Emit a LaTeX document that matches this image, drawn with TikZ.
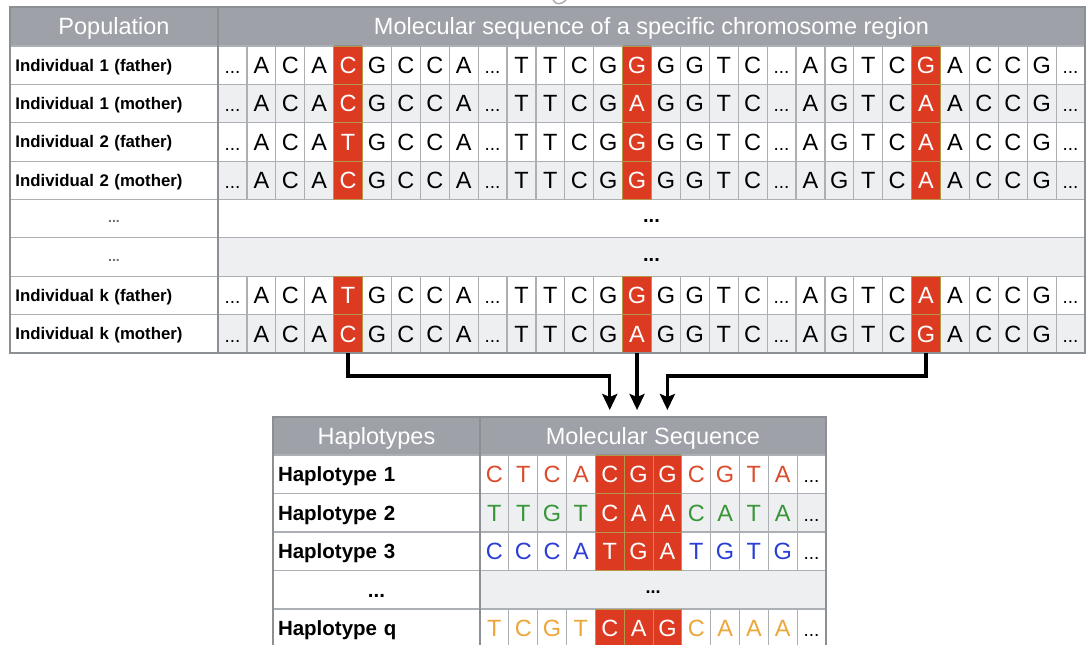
\documentclass[tikz,border=0pt]{standalone}
\usepackage{fontspec}
\setmainfont{Liberation Sans}
\usetikzlibrary{arrows.meta,calc}

\definecolor{hdrgray}{RGB}{158,161,167}
\definecolor{gridgray}{RGB}{172,175,180}
\definecolor{edgegray}{RGB}{140,143,148}
\definecolor{rowgray}{RGB}{237,239,241}
\definecolor{hlred}{RGB}{221,58,34}
\definecolor{hledge}{RGB}{182,150,72}
\definecolor{hapred}{RGB}{218,76,44}
\definecolor{hapgreen}{RGB}{56,150,56}
\definecolor{hapblue}{RGB}{42,62,214}
\definecolor{haporange}{RGB}{236,166,58}
\definecolor{dotgray}{RGB}{110,110,110}

% ellipsis used inside sequence cells
\newcommand\sqdots{{\fontsize{19}{19}\selectfont...}}

% one haplotype row: id, y centre, fill, letter colour, label, letters 1..11
\newcommand\haprow[6]{%
  \node[hlab] (hl#1) at (376.5,#2) {#5};
  \foreach \ltr [count=\i] in {#6}{%
    \pgfmathsetmacro\cx{480+(\i-0.5)*28.833}%
    \ifnum\i<5 \node[bcell,fill=#3,text=#4] (b#1-\i) at (\cx,#2) {\ltr};\fi
    \ifnum\i>7 \node[bcell,fill=#3,text=#4] (b#1-\i) at (\cx,#2) {\ltr};\fi
  }%
  \node[bcell,fill=#3] (b#1-12) at ({480+11.5*28.833},#2) {\sqdots};
}

\begin{document}
\begin{tikzpicture}[x=1pt,y=-1pt,
  every node/.style={inner sep=0pt,outer sep=0pt},
  cell/.style={draw=gridgray,line width=1.2pt,minimum width=28.9pt,
    minimum height=38.375pt,font=\fontsize{23.5}{24}\selectfont,
    text height=16.8pt,text depth=0pt},
  bcell/.style={cell,minimum width=28.833pt,minimum height=38.5pt},
  hl/.style={fill=hlred,draw=hledge,line width=0.9pt,text=white},
  hdr/.style={fill=hdrgray,draw=edgegray,line width=1.2pt,text=white,
    font=\fontsize{23.5}{24}\selectfont,text height=16.8pt,text depth=0pt},
  labcell/.style={draw=gridgray,line width=1.2pt,fill=white,
    minimum height=38.375pt,text width=197pt,inner xsep=5.5pt,align=left,
    font=\bfseries\fontsize{16.8}{18}\selectfont,text height=12pt,text depth=0pt},
  hlab/.style={draw=gridgray,line width=1.2pt,fill=white,
    minimum height=38.5pt,text width=197pt,inner xsep=5pt,align=left,
    font=\bfseries\fontsize{20.5}{22}\selectfont,text height=14.7pt,text depth=0pt},
  dotlab/.style={align=center,font=\bfseries\fontsize{14}{14}\selectfont,
    text=dotgray,text height=8pt},
  span/.style={draw=gridgray,line width=1.2pt,minimum height=38.375pt,
    font=\bfseries\fontsize{20}{20}\selectfont,text height=8pt,text depth=0pt},
  edge/.style={draw=edgegray,line width=1.8pt},
  arr/.style={line width=3.2pt,line join=miter,
    -{Stealth[length=16pt,width=15pt,inset=3pt]}}
]
\useasboundingbox (0,0) rectangle (1087,645);
\fill[white] (0,0) rectangle (1087,645);

% small mark cut by the top edge
\draw[gray!70,line width=1.3pt] (553,0) .. controls (556,5) and (561,5) .. (566,0);

% ---------------- population table ----------------
\node[hdr,minimum width=208pt,minimum height=39pt] (hpop) at (114,26.5) {Population};
\node[hdr,minimum width=867pt,minimum height=39pt] (hseq) at (651.5,26.5)
  {Molecular sequence of a specific chromosome region};

\foreach \r/\fc/\lab in {
  1/white/Individual 1 (father),
  2/rowgray/Individual 1 (mother),
  3/white/Individual 2 (father),
  4/rowgray/Individual 2 (mother),
  7/white/Individual k (father),
  8/rowgray/Individual k (mother)}{
  \pgfmathsetmacro\ry{46+(\r-0.5)*38.375}
  \node[labcell] (lab\r) at (114,\ry) {\lab};
  \foreach \ltr [count=\i] in {\sqdots,A,C,A,X,G,C,C,A,\sqdots,T,T,C,G,X,G,G,T,C,
      \sqdots,A,G,T,C,X,A,C,C,G,\sqdots}{
    \pgfmathsetmacro\cx{218+(\i-0.5)*28.9}
    \ifnum\i=5 \else\ifnum\i=15 \else\ifnum\i=25 \else
      \node[cell,fill=\fc] (s\r-\i) at (\cx,\ry) {\ltr};
    \fi\fi\fi
  }
}

% rows left out of the listing
\node[labcell,dotlab] (lab5) at (114,218.69) {...};
\node[span,fill=white,minimum width=867pt] (s5) at (651.5,218.69) {...};
\node[labcell,dotlab] (lab6) at (114,257.06) {...};
\node[span,fill=rowgray,minimum width=867pt] (s6) at (651.5,257.06) {...};

% polymorphic sites
\foreach \r/\snpA/\snpB/\snpC in {1/C/G/G,2/C/A/A,3/T/G/A,4/C/G/A,7/T/G/A,8/C/A/G}{
  \pgfmathsetmacro\ry{46+(\r-0.5)*38.375}
  \node[cell,hl] (s\r-5) at ({218+4.5*28.9},\ry) {\snpA};
  \node[cell,hl] (s\r-15) at ({218+14.5*28.9},\ry) {\snpB};
  \node[cell,hl] (s\r-25) at ({218+24.5*28.9},\ry) {\snpC};
}

\draw[edge] (hpop.north west) rectangle (s8-30.south east);
\draw[edge] (hpop.north east) -- (lab8.south east);

% ---------------- haplotype table ----------------
\node[hdr,minimum width=207pt,minimum height=38pt] (hhap) at (376.5,436) {Haplotypes};
\node[hdr,minimum width=346pt,minimum height=38pt] (hmol) at (653,436) {Molecular Sequence};

\haprow{1}{474.25}{white}{hapred}{Haplotype 1}{C,T,C,A,C,G,G,C,G,T,A}
\haprow{2}{512.75}{rowgray}{hapgreen}{Haplotype 2}{T,T,G,T,C,A,A,C,A,T,A}
\haprow{3}{551.25}{white}{hapblue}{Haplotype 3}{C,C,C,A,T,G,A,T,G,T,G}
\node[hlab,align=center] (hl4) at (376.5,589.75) {...};
\node[span,fill=rowgray,minimum width=346pt,minimum height=38.5pt,
  font=\bfseries\fontsize{18}{18}\selectfont] (b4) at (653,589.75) {...};
\haprow{q}{628.25}{white}{haporange}{Haplotype q}{T,C,G,T,C,A,G,C,A,A,A}

\foreach \r/\y/\snpA/\snpB/\snpC in {1/474.25/C/G/G,2/512.75/C/A/A,3/551.25/T/G/A,q/628.25/C/A/G}{
  \node[bcell,hl] (b\r-5) at ({480+4.5*28.833},\y) {\snpA};
  \node[bcell,hl] (b\r-6) at ({480+5.5*28.833},\y) {\snpB};
  \node[bcell,hl] (b\r-7) at ({480+6.5*28.833},\y) {\snpC};
}

\draw[edge] (hhap.north west) rectangle (bq-12.south east);
\draw[edge] (hhap.north east) -- (hlq.south east);

% ---------------- selected sites feed the haplotypes ----------------
\coordinate (a1) at ($(b1-5 |- hhap.north)+(0,-7)$);
\coordinate (a2) at ($(s8-15 |- hhap.north)+(0,-7)$);
\coordinate (a3) at ($(b1-7 |- hhap.north)+(0,-7)$);
\draw[arr] (s8-5.south) -- ++(0,23) -| (a1);
\draw[arr] (s8-15.south) -- (a2);
\draw[arr] (s8-25.south) -- ++(0,23) -| (a3);
\end{tikzpicture}
\end{document}
